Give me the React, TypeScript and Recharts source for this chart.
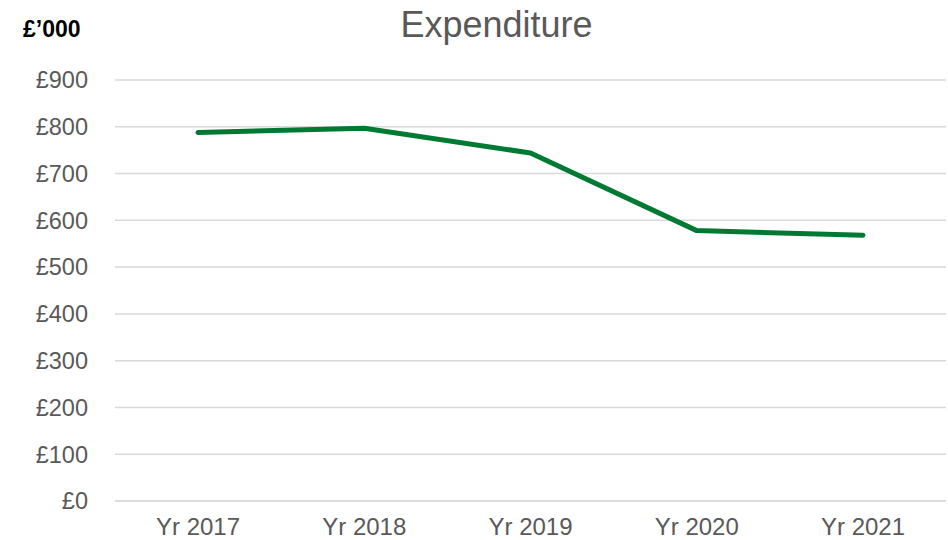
import { LineChart, Line, XAxis, YAxis, CartesianGrid } from 'recharts';

const years = ['Yr 2017', 'Yr 2018', 'Yr 2019', 'Yr 2020', 'Yr 2021'];
const expenditure = [788, 797, 744, 578, 568];
const yTicks = [0, 100, 200, 300, 400, 500, 600, 700, 800, 900];

const data = years.map((year, i) => ({ year, value: expenditure[i] }));

const FONT = '"Liberation Sans", Arial, sans-serif';
const GREY = '#595959';

const formatPounds = (v: number) => `£${v}`;

const App = () => (
  <div style={{ position: 'absolute', left: 0, top: 0, width: 948, height: 540, background: '#fff' }}>
    <LineChart
      width={948}
      height={540}
      data={data}
      margin={{ top: 80, right: 2, left: 0, bottom: 0 }}
      style={{ fontFamily: FONT }}
    >
      <CartesianGrid stroke="#d9d9d9" strokeWidth={1.5} vertical={false} />
      <XAxis
        dataKey="year"
        height={39}
        padding={{ left: 83, right: 83 }}
        tickLine={false}
        tickSize={0}
        tickMargin={17}
        axisLine={{ stroke: '#d9d9d9', strokeWidth: 1.5 }}
        tick={{ fontSize: 24, fill: GREY, fontFamily: FONT }}
        interval={0}
      />
      <YAxis
        width={115}
        domain={[0, 900]}
        ticks={yTicks}
        tickFormatter={formatPounds}
        tickLine={false}
        tickSize={0}
        tickMargin={27}
        axisLine={false}
        tick={{ fontSize: 23.5, fill: GREY, fontFamily: FONT }}
        interval={0}
      />
      <Line
        type="linear"
        dataKey="value"
        stroke="#007a33"
        strokeWidth={5}
        strokeLinecap="round"
        strokeLinejoin="round"
        dot={false}
        activeDot={false}
        isAnimationActive={false}
      />
    </LineChart>
    <svg width={948} height={60} style={{ position: 'absolute', left: 0, top: 0, pointerEvents: 'none' }}>
      <text x={496.5} y={37} textAnchor="middle" fontSize={36} fill={GREY} fontFamily={FONT}>
        Expenditure
      </text>
      <text x={23} y={37} fontSize={23} fontWeight="bold" fill="#000" fontFamily={FONT}>
        £’000
      </text>
    </svg>
  </div>
);

export default App;
